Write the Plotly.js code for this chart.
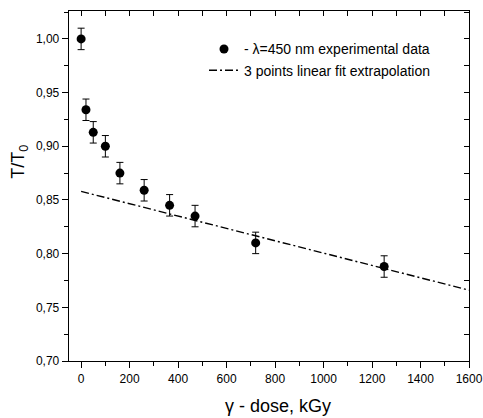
<!DOCTYPE html>
<html>
<head>
<meta charset="utf-8">
<script src="https://cdn.plot.ly/plotly-3.0.1.min.js"></script>
<style>html,body{margin:0;padding:0;background:#fff;}#chart{width:483px;height:418px;}</style>
</head>
<body>
<div id="chart"></div>
<script>
const doseKGy = [0, 20, 50, 100, 160, 260, 365, 470, 720, 1250];
const transmittance = [1.000, 0.934, 0.913, 0.900, 0.875, 0.859, 0.845, 0.835, 0.810, 0.788];
const errorT = [0.010, 0.010, 0.010, 0.010, 0.010, 0.010, 0.010, 0.010, 0.010, 0.010];
const fitX = [0, 1600];
const fitY = [0.858, 0.766];
const dataLabel = '- λ=450 nm experimental data';
const fitLabel = '3 points linear fit extrapolation';
const xTitle = 'γ - dose, kGy';
const yTitle = 'T/T<sub>0</sub>';

const font = 'Liberation Sans, Arial, sans-serif';
const traces = [
  {
    x: doseKGy, y: transmittance, type: 'scatter', mode: 'markers', name: dataLabel,
    marker: {color: '#000', size: 9},
    error_y: {type: 'data', array: errorT, visible: true, color: '#000', thickness: 1, width: 3.5}
  },
  {
    x: fitX, y: fitY, type: 'scatter', mode: 'lines', name: fitLabel,
    line: {color: '#000', width: 1.4, dash: '8px,3px,2px,3px'}
  },
  {
    x: fitX, y: fitY, type: 'scatter', mode: 'lines', xaxis: 'x2', yaxis: 'y2',
    showlegend: false, hoverinfo: 'skip', opacity: 0, line: {width: 0}
  }
];
const layout = {
  width: 483, height: 418,
  margin: {l: 69, r: 14, t: 11, b: 57},
  paper_bgcolor: '#fff', plot_bgcolor: '#fff',
  separators: ',.',
  font: {family: font, color: '#000', size: 12},
  showlegend: true,
  legend: {x: 0.3375, y: 0.936, xanchor: 'left', yanchor: 'top', bgcolor: 'rgba(0,0,0,0)',
           font: {family: font, size: 14, color: '#000'}, tracegroupgap: 0},
  annotations: [
    {text: xTitle, xref: 'paper', yref: 'paper', x: 0.5225, y: -0.129, xanchor: 'center', yanchor: 'middle',
     showarrow: false, font: {size: 18, family: font, color: '#000'}},
    {text: yTitle, xref: 'paper', yref: 'paper', x: -0.1225, y: 0.569, xanchor: 'center', yanchor: 'middle',
     textangle: -90, showarrow: false, font: {size: 18, family: font, color: '#000'}}
  ],
  xaxis: {
    range: [-50, 1600], tick0: 0, dtick: 200, ticks: 'outside', ticklen: 6, tickwidth: 1,
    tickcolor: '#000', showline: true, linecolor: '#000', linewidth: 1.3, zeroline: false,
    showgrid: false, tickfont: {size: 12, family: font},
    minor: {tick0: 0, dtick: 100, ticks: 'outside', ticklen: 4, tickcolor: '#000', tickwidth: 1, showgrid: false}
  },
  yaxis: {
    range: [0.70, 1.026], tick0: 0.7, dtick: 0.05, tickformat: '.2f', ticks: 'outside', ticklen: 6,
    tickwidth: 1, tickcolor: '#000', showline: true, linecolor: '#000', linewidth: 1.3,
    zeroline: false, showgrid: false, tickfont: {size: 12, family: font},
    minor: {tick0: 0.7, dtick: 0.025, ticks: 'outside', ticklen: 4, tickcolor: '#000', tickwidth: 1, showgrid: false}
  },
  xaxis2: {
    overlaying: 'x', side: 'top', anchor: 'y2', range: [-50, 1600], tick0: 0, dtick: 100,
    ticks: 'inside', ticklen: 5, tickcolor: '#000', showticklabels: false, showline: true,
    linecolor: '#000', linewidth: 1.3, zeroline: false, showgrid: false
  },
  yaxis2: {
    overlaying: 'y', side: 'right', anchor: 'x2', range: [0.70, 1.026], tick0: 0.7, dtick: 0.025,
    ticks: 'inside', ticklen: 5, tickcolor: '#000', showticklabels: false, showline: true,
    linecolor: '#000', linewidth: 1.3, zeroline: false, showgrid: false
  }
};
Plotly.newPlot('chart', traces, layout, {displayModeBar: false, staticPlot: true});
</script>
</body>
</html>
